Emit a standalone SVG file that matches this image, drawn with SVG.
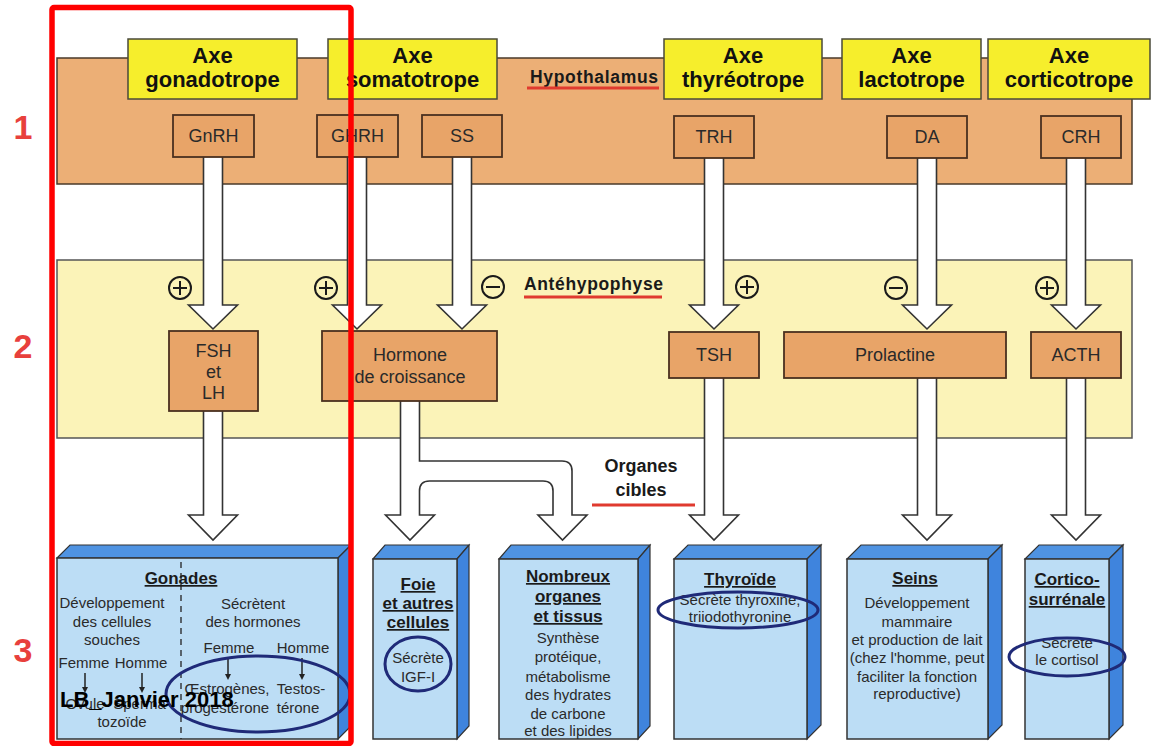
<svg xmlns="http://www.w3.org/2000/svg" width="1151" height="746" viewBox="0 0 1151 746">
<defs>
<style>
text { font-family: "Liberation Sans", Arial, sans-serif; fill:#222; }
.axe { font-size:22px; font-weight:bold; text-anchor:middle; fill:#111; }
.ybox { fill:#F6EE2C; stroke:#4a4a3a; stroke-width:1.5; }
.hbox { fill:#E8A468; stroke:#4a3020; stroke-width:1.8; }
.hl { font-size:18px; text-anchor:middle; fill:#2a2a2a; }
.band1 { fill:#ECAF76; stroke:#4a3a2a; stroke-width:1.5; }
.band2 { fill:#FBF3B8; stroke:#555; stroke-width:1.5; }
.bandlbl { font-size:17.5px; font-weight:bold; fill:#1a1a1a; }
.arrow { fill:#fff; stroke:#333; stroke-width:1.6; }
.sign circle { fill:none; stroke:#1a1a1a; stroke-width:2; }
.sign path { stroke:#1a1a1a; stroke-width:2; fill:none; }
.front { fill:#BCDDF5; stroke:#333; stroke-width:1.5; }
.top { fill:#4F93E2; stroke:#333; stroke-width:1.2; }
.side { fill:#3F84DD; stroke:#333; stroke-width:1.2; }
.bt { font-size:17px; font-weight:bold; text-anchor:middle; text-decoration:underline; fill:#1a1a1a; }
.bd { font-size:15px; text-anchor:middle; fill:#2a2a2a; }
.gd { font-size:15px; text-anchor:middle; fill:#2a2a2a; }
.oval { fill:none; stroke:#1F2A78; stroke-width:3; }
.num { font-size:34px; font-weight:bold; fill:#E8403C; text-anchor:middle; }
.redline { stroke:#E03A2F; stroke-width:3; }
.small { stroke:#222; stroke-width:1.5; marker-end:url(#ah); }
</style>
<marker id="ah" viewBox="0 0 8 8" refX="4" refY="4" markerWidth="6" markerHeight="6" orient="auto" markerUnits="userSpaceOnUse">
<path d="M0,0 L8,4 L0,8 Z" fill="#222"/>
</marker>
</defs>

<!-- bands -->
<g id="hypothalamus">
<rect class="band1" x="57" y="58" width="1075" height="126"/>
<text class="bandlbl" x="530" y="83" textLength="128" lengthAdjust="spacing">Hypothalamus</text>
<line class="redline" x1="527" y1="88" x2="659" y2="88"/>
</g>
<g id="antehypophyse">
<rect class="band2" x="57" y="260" width="1075" height="178"/>
<text class="bandlbl" x="524" y="290" textLength="139" lengthAdjust="spacing">Antéhypophyse</text>
<line class="redline" x1="524" y1="297" x2="662" y2="297"/>
</g>

<!-- connectors -->
<g id="connectors">
<path class="arrow" d="M203.5,150 V305 H188.5 L213,329 L237.5,305 H222.5 V150 Z"/>
<path class="arrow" d="M347.5,150 V305 H332.5 L357,329 L381.5,305 H366.5 V150 Z"/>
<path class="arrow" d="M452.5,150 V305 H437.5 L462,329 L486.5,305 H471.5 V150 Z"/>
<path class="arrow" d="M704.5,150 V305 H689.5 L714,329 L738.5,305 H723.5 V150 Z"/>
<path class="arrow" d="M917.5,150 V305 H902.5 L927,329 L951.5,305 H936.5 V150 Z"/>
<path class="arrow" d="M1066.5,150 V305 H1051.5 L1076,329 L1100.5,305 H1085.5 V150 Z"/>
<path class="arrow" d="M203.5,405 V515 H188.5 L213,540 L237.5,515 H222.5 V405 Z"/>
<path class="arrow" d="M400.5,395 V515 H385.5 L410,540 L434.5,515 H419.5 V491 Q419.5,481 429.5,481 H543 Q553,481 553,491 V515 H538 L562.5,540 L587,515 H572 V471 Q572,461 562,461 H419.5 V395 Z"/>
<path class="arrow" d="M704.5,372 V515 H689.5 L714,540 L738.5,515 H723.5 V372 Z"/>
<path class="arrow" d="M917.5,372 V515 H902.5 L927,540 L951.5,515 H936.5 V372 Z"/>
<path class="arrow" d="M1066.5,372 V515 H1051.5 L1076,540 L1100.5,515 H1085.5 V372 Z"/>
</g>

<!-- axis titles -->
<g id="axe-gonadotrope"><rect class="ybox" x="128" y="39" width="169" height="60"/><text class="axe" x="212.5" y="63">Axe</text><text class="axe" x="212.5" y="87">gonadotrope</text></g>
<g id="axe-somatotrope"><rect class="ybox" x="328" y="39" width="169" height="60"/><text class="axe" x="412.5" y="63">Axe</text><text class="axe" x="412.5" y="87">somatotrope</text></g>
<g id="axe-thyreotrope"><rect class="ybox" x="664" y="39" width="158" height="60"/><text class="axe" x="743" y="63">Axe</text><text class="axe" x="743" y="87">thyréotrope</text></g>
<g id="axe-lactotrope"><rect class="ybox" x="842" y="39" width="139" height="60"/><text class="axe" x="911.5" y="63">Axe</text><text class="axe" x="911.5" y="87">lactotrope</text></g>
<g id="axe-corticotrope"><rect class="ybox" x="988" y="39" width="162" height="60"/><text class="axe" x="1069" y="63">Axe</text><text class="axe" x="1069" y="87">corticotrope</text></g>

<!-- hypothalamic hormones -->
<g id="gnrh"><rect class="hbox" x="173" y="115" width="81" height="42"/><text class="hl" x="213.5" y="142">GnRH</text></g>
<g id="ghrh"><rect class="hbox" x="317" y="115" width="81" height="42"/><text class="hl" x="357.5" y="142">GHRH</text></g>
<g id="ss"><rect class="hbox" x="422" y="115" width="80" height="42"/><text class="hl" x="462" y="142">SS</text></g>
<g id="trh"><rect class="hbox" x="674" y="116" width="80" height="42"/><text class="hl" x="714" y="143">TRH</text></g>
<g id="da"><rect class="hbox" x="887" y="116" width="80" height="42"/><text class="hl" x="927" y="143">DA</text></g>
<g id="crh"><rect class="hbox" x="1041" y="116" width="80" height="42"/><text class="hl" x="1081" y="143">CRH</text></g>

<!-- signs -->
<g id="signs" class="sign">
<circle cx="180" cy="288" r="11"/><path d="M173,288 H187 M180,281 V295"/>
<circle cx="326" cy="288" r="11"/><path d="M319,288 H333 M326,281 V295"/>
<circle cx="493" cy="287" r="11"/><path d="M486,287 H500"/>
<circle cx="747" cy="287" r="11"/><path d="M740,287 H754 M747,280 V294"/>
<circle cx="896" cy="288" r="11"/><path d="M889,288 H903"/>
<circle cx="1047" cy="288" r="11"/><path d="M1040,288 H1054 M1047,281 V295"/>
</g>

<!-- pituitary hormones -->
<g id="fsh-lh"><rect class="hbox" x="169" y="331" width="89" height="80"/><text class="hl" x="213.5" y="357">FSH</text><text class="hl" x="213.5" y="378">et</text><text class="hl" x="213.5" y="399">LH</text></g>
<g id="gh"><rect class="hbox" x="322" y="331" width="175" height="70"/><text class="hl" x="410" y="361">Hormone</text><text class="hl" x="410" y="383">de croissance</text></g>
<g id="tsh"><rect class="hbox" x="669" y="332" width="90" height="46"/><text class="hl" x="714" y="361">TSH</text></g>
<g id="prolactine"><rect class="hbox" x="784" y="332" width="222" height="46"/><text class="hl" x="895" y="361">Prolactine</text></g>
<g id="acth"><rect class="hbox" x="1031" y="332" width="90" height="46"/><text class="hl" x="1076" y="361">ACTH</text></g>

<g id="organes-cibles">
<text x="641" y="472" style="font-size:18px;font-weight:bold;text-anchor:middle;fill:#1a1a1a">Organes</text>
<text x="641" y="496" style="font-size:18px;font-weight:bold;text-anchor:middle;fill:#1a1a1a">cibles</text>
<line class="redline" x1="592" y1="505" x2="695" y2="505"/>
</g>

<!-- target organs -->
<g id="gonades">
<polygon class="top" points="57,558 70,545 351,545 338,558"/>
<polygon class="side" points="338,558 351,545 351,726 338,739"/>
<rect class="front" x="57" y="558" width="281" height="181"/>
<line x1="181" y1="562" x2="181" y2="739" stroke="#222" stroke-width="1.3" stroke-dasharray="6 5"/>
<text class="bt" x="181" y="584">Gonades</text>
<text class="gd" x="112" y="608">Développement</text>
<text class="gd" x="112" y="627">des cellules</text>
<text class="gd" x="112" y="645">souches</text>
<text class="gd" x="84" y="668">Femme</text>
<text class="gd" x="141" y="668">Homme</text>
<line class="small" x1="85" y1="673" x2="85" y2="690"/>
<line class="small" x1="142" y1="673" x2="142" y2="690"/>
<text class="gd" x="85" y="709">Ovule</text>
<text class="gd" x="142" y="709">Sperma-</text>
<text class="gd" x="122" y="727">tozoïde</text>
<text class="gd" x="253" y="609">Sécrètent</text>
<text class="gd" x="253" y="627">des hormones</text>
<text class="gd" x="229" y="653">Femme</text>
<text class="gd" x="303" y="653">Homme</text>
<line class="small" x1="228" y1="658" x2="228" y2="677"/>
<line class="small" x1="302" y1="658" x2="302" y2="677"/>
<text class="gd" x="227" y="694">Œstrogènes,</text>
<text class="gd" x="301" y="694">Testos-</text>
<text class="gd" x="225" y="713">progestérone</text>
<text class="gd" x="298" y="713">térone</text>
<ellipse class="oval" cx="258" cy="694" rx="92" ry="38"/>
<text x="60" y="707" style="font-size:22px;font-weight:bold;fill:#000">LB_Janvier 2018</text>
</g>

<g id="foie">
<polygon class="top" points="373,559 385,545 469,545 457,559"/>
<polygon class="side" points="457,559 469,545 469,726 457,739"/>
<rect class="front" x="373" y="559" width="84" height="180"/>
<text class="bt" x="418" y="590">Foie</text>
<text class="bt" x="418" y="609">et autres</text>
<text class="bt" x="418" y="628">cellules</text>
<text class="bd" x="418" y="663">Sécrète</text>
<text class="bd" x="418" y="682">IGF-I</text>
<ellipse class="oval" cx="418" cy="664" rx="33" ry="27"/>
</g>

<g id="nombreux">
<polygon class="top" points="499,559 511,545 650,545 638,559"/>
<polygon class="side" points="638,559 650,545 650,726 638,739"/>
<rect class="front" x="499" y="559" width="139" height="180"/>
<text class="bt" x="568" y="582">Nombreux</text>
<text class="bt" x="568" y="602">organes</text>
<text class="bt" x="568" y="622">et tissus</text>
<text class="bd" x="568" y="643">Synthèse</text>
<text class="bd" x="568" y="662">protéique,</text>
<text class="bd" x="568" y="682">métabolisme</text>
<text class="bd" x="568" y="700">des hydrates</text>
<text class="bd" x="568" y="719">de carbone</text>
<text class="bd" x="568" y="736">et des lipides</text>
</g>

<g id="thyroide">
<polygon class="top" points="674,559 688,545 821,545 807,559"/>
<polygon class="side" points="807,559 821,545 821,725 807,739"/>
<rect class="front" x="674" y="559" width="133" height="180"/>
<text class="bt" x="740" y="585">Thyroïde</text>
<text class="bd" x="740" y="605">Sécrète thyroxine,</text>
<text class="bd" x="740" y="622">triiodothyronine</text>
<ellipse class="oval" cx="738" cy="610" rx="80" ry="18"/>
</g>

<g id="seins">
<polygon class="top" points="847,559 861,545 1002,545 988,559"/>
<polygon class="side" points="988,559 1002,545 1002,725 988,739"/>
<rect class="front" x="847" y="559" width="141" height="180"/>
<text class="bt" x="915" y="584">Seins</text>
<text class="bd" x="917" y="608">Développement</text>
<text class="bd" x="917" y="627">mammaire</text>
<text class="bd" x="917" y="645">et production de lait</text>
<text class="bd" x="917" y="663">(chez l'homme, peut</text>
<text class="bd" x="917" y="682">faciliter la fonction</text>
<text class="bd" x="917" y="699">reproductive)</text>
</g>

<g id="corticosurrenale">
<polygon class="top" points="1025,559 1039,545 1123,545 1109,559"/>
<polygon class="side" points="1109,559 1123,545 1123,725 1109,739"/>
<rect class="front" x="1025" y="559" width="84" height="180"/>
<text class="bt" x="1067" y="585">Cortico-</text>
<text class="bt" x="1067" y="605">surrénale</text>
<text class="bd" x="1067" y="648">Sécrète</text>
<text class="bd" x="1067" y="665">le cortisol</text>
<ellipse class="oval" cx="1067" cy="657" rx="58" ry="19"/>
</g>

<!-- level numbers -->
<g id="levels">
<text class="num" x="23" y="139">1</text>
<text class="num" x="23" y="358">2</text>
<text class="num" x="23" y="662">3</text>
</g>

<g id="highlight">
<rect x="52" y="7.5" width="299" height="736" rx="2" fill="none" stroke="#FF0000" stroke-width="5.5"/>
</g>
</svg>
